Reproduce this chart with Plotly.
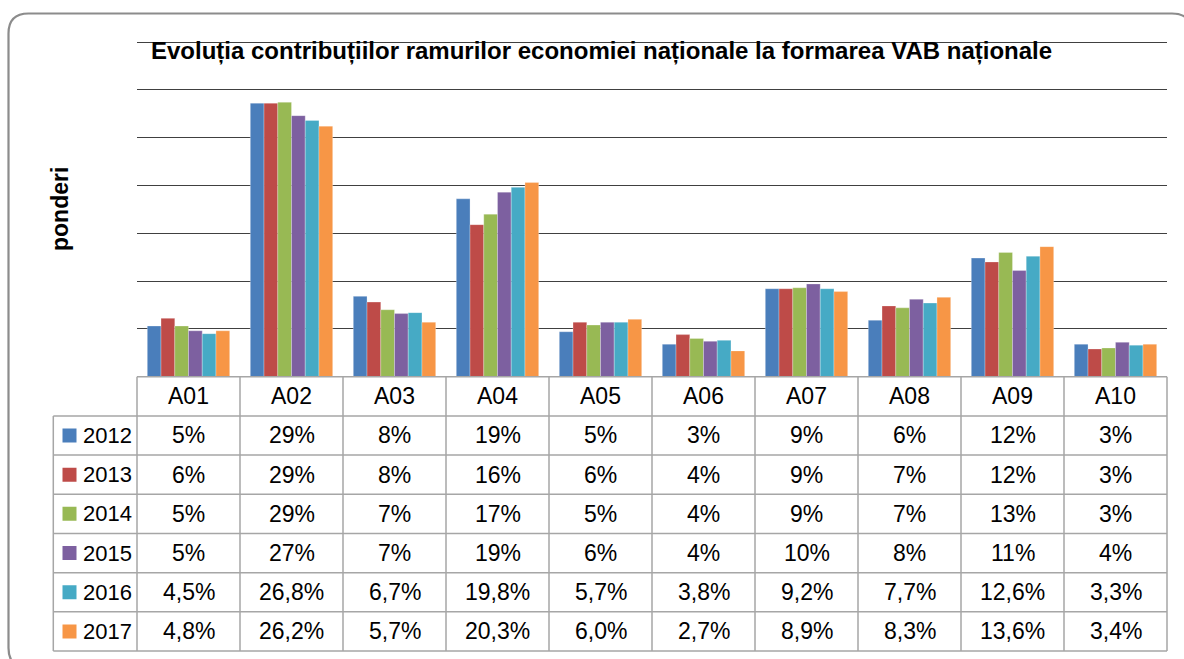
import plotly.graph_objects as go

# ---------------- data ----------------
categories = ["A01", "A02", "A03", "A04", "A05", "A06", "A07", "A08", "A09", "A10"]
years = ["2012", "2013", "2014", "2015", "2016", "2017"]
v2012 = [5.3, 28.6, 8.4, 18.6, 4.7, 3.4, 9.2, 5.9, 12.4, 3.4]
v2013 = [6.1, 28.6, 7.8, 15.9, 5.7, 4.4, 9.2, 7.4, 12.0, 2.9]
v2014 = [5.3, 28.7, 7.0, 17.0, 5.4, 4.0, 9.3, 7.2, 13.0, 3.0]
v2015 = [4.8, 27.3, 6.6, 19.3, 5.7, 3.7, 9.7, 8.1, 11.1, 3.6]
v2016 = [4.5, 26.8, 6.7, 19.8, 5.7, 3.8, 9.2, 7.7, 12.6, 3.3]
v2017 = [4.8, 26.2, 5.7, 20.3, 6.0, 2.7, 8.9, 8.3, 13.6, 3.4]
series = [v2012, v2013, v2014, v2015, v2016, v2017]
table_decimals = [0, 0, 0, 0, 1, 1]
colors = ["#4A7EBB", "#BE4B48", "#98B954", "#7D60A0", "#46AAC5", "#F79646"]

title = "Evoluția contribuțiilor ramurilor economiei naționale la formarea VAB naționale"
ytitle = "ponderi"

# ---------------- layout constants (pixels) ----------------
W, H = 1184, 659
PL, PR, PT, PB = 137.0, 1167.0, 42.0, 376.7     # plot area
TL, TB = 53.3, 651.0                             # table left / bottom
NROWS = 7
ROWH = (TB - PB) / NROWS
NCAT = len(categories)
UNIT = (PR - PL) / NCAT
PAD = 3.0  # px padding so border lines are not clipped

FONT = "Liberation Sans, Arial, sans-serif"
FONT_B = "Liberation Sans, Arial, sans-serif"
TSIZE = 23
YSIZE = 22


def fx(px):
    return px / W


def fy(py):
    return (H - py) / H


fig = go.Figure()

for yr, vals, col in zip(years, series, colors):
    fig.add_trace(go.Bar(
        x=categories, y=vals, name=yr,
        marker=dict(color=col, line=dict(width=0.6, color="rgba(255,255,255,0.45)")),
        xaxis="x", yaxis="y", showlegend=False,
    ))

# table axes (x2/y2): same unit as category axis
x2_left = -0.5 - (PL - TL) / UNIT - PAD / UNIT
x2_right = NCAT - 0.5 + PAD / UNIT
y2_top = 0 - PAD / ROWH
y2_bot = NROWS + PAD / ROWH

# legend markers in table
marker_x = -0.5 - (PL - 69.5) / UNIT
fig.add_trace(go.Scatter(
    x=[marker_x] * len(years), y=[r + 1.5 for r in range(len(years))],
    mode="markers", marker=dict(symbol="square", size=14, color=colors),
    xaxis="x2", yaxis="y2", showlegend=False, hoverinfo="skip",
))

shapes = []
grid_col = "#A6A6A6"
# horizontal table lines
for r in range(NROWS + 1):
    x0 = -0.5 if r == 0 else -0.5 - (PL - TL) / UNIT
    shapes.append(dict(type="line", xref="x2", yref="y2", x0=x0, x1=NCAT - 0.5,
                       y0=r, y1=r, line=dict(color=grid_col, width=1.5)))
# vertical table lines
shapes.append(dict(type="line", xref="x2", yref="y2", x0=-0.5 - (PL - TL) / UNIT,
                   x1=-0.5 - (PL - TL) / UNIT, y0=1, y1=NROWS,
                   line=dict(color=grid_col, width=1.5)))
for c in range(NCAT + 1):
    shapes.append(dict(type="line", xref="x2", yref="y2", x0=c - 0.5, x1=c - 0.5,
                       y0=0, y1=NROWS, line=dict(color=grid_col, width=1.5)))

# outer rounded frame
R = 20
x0, y0, x1, y1 = 8.5, 13.5, 1192, 668
path = (f"M {fx(x0)},{fy(y0 + R)} "
        f"Q {fx(x0)},{fy(y0)} {fx(x0 + R)},{fy(y0)} "
        f"L {fx(x1 - R)},{fy(y0)} Q {fx(x1)},{fy(y0)} {fx(x1)},{fy(y0 + R)} "
        f"L {fx(x1)},{fy(y1 - R)} Q {fx(x1)},{fy(y1)} {fx(x1 - R)},{fy(y1)} "
        f"L {fx(x0 + R)},{fy(y1)} Q {fx(x0)},{fy(y1)} {fx(x0)},{fy(y1 - R)} Z")
shapes.append(dict(type="path", xref="paper", yref="paper", path=path,
                   line=dict(color="#8C8C8C", width=2.2), layer="below"))

annotations = []
# header
for i, c in enumerate(categories):
    annotations.append(dict(xref="x2", yref="y2", x=i, y=0.5, text=c, showarrow=False,
                            font=dict(family=FONT, size=TSIZE, color="#000000")))
# rows
for r, (yr, vals, d) in enumerate(zip(years, series, table_decimals)):
    annotations.append(dict(xref="x2", yref="y2", x=-0.5 - (PL - 81) / UNIT, y=r + 1.5,
                            text=yr, showarrow=False, xanchor="left",
                            font=dict(family=FONT, size=YSIZE, color="#000000")))
    for i, v in enumerate(vals):
        txt = f"{v:.{d}f}%".replace(".", ",")
        annotations.append(dict(xref="x2", yref="y2", x=i, y=r + 1.5, text=txt,
                                showarrow=False,
                                font=dict(family=FONT, size=TSIZE, color="#000000")))
# title
annotations.append(dict(xref="paper", yref="paper", x=fx(601), y=fy(51), text=f"<b>{title}</b>",
                        showarrow=False, xanchor="center", yanchor="middle",
                        font=dict(family=FONT_B, size=24, color="#000000")))
# y title
annotations.append(dict(xref="paper", yref="paper", x=fx(60), y=fy(209), text=f"<b>{ytitle}</b>",
                        showarrow=False, textangle=-90, xanchor="center", yanchor="middle",
                        font=dict(family=FONT_B, size=23, color="#000000")))

fig.update_layout(
    width=W, height=H,
    margin=dict(l=0, r=0, t=0, b=0),
    paper_bgcolor="white", plot_bgcolor="rgba(0,0,0,0)",
    barmode="group", bargap=0.2, bargroupgap=0.0,
    xaxis=dict(domain=[fx(PL), fx(PR)], range=[-0.5, NCAT - 0.5], showticklabels=False,
               showgrid=False, zeroline=False, showline=False, ticks="", fixedrange=True),
    yaxis=dict(domain=[fy(PB), fy(PT) + 1.5 / H], range=[0, 35 + 1.5 / ((PB - PT) / 35)],
               tickvals=[5, 10, 15, 20, 25, 30, 35], showticklabels=False,
               gridcolor="#404040", gridwidth=1.4, zeroline=False, showline=False, ticks=""),
    xaxis2=dict(domain=[fx(TL - PAD), fx(PR + PAD)], range=[x2_left, x2_right], visible=False,
                anchor="y2"),
    yaxis2=dict(domain=[fy(TB + PAD), fy(PB - PAD)], range=[y2_bot, y2_top], visible=False,
                anchor="x2"),
    shapes=shapes,
    annotations=annotations,
    hovermode=False,
)

fig.write_html("out.html", config={"displayModeBar": False},
               post_script="document.body.style.margin='0';document.body.style.overflow='hidden';")
